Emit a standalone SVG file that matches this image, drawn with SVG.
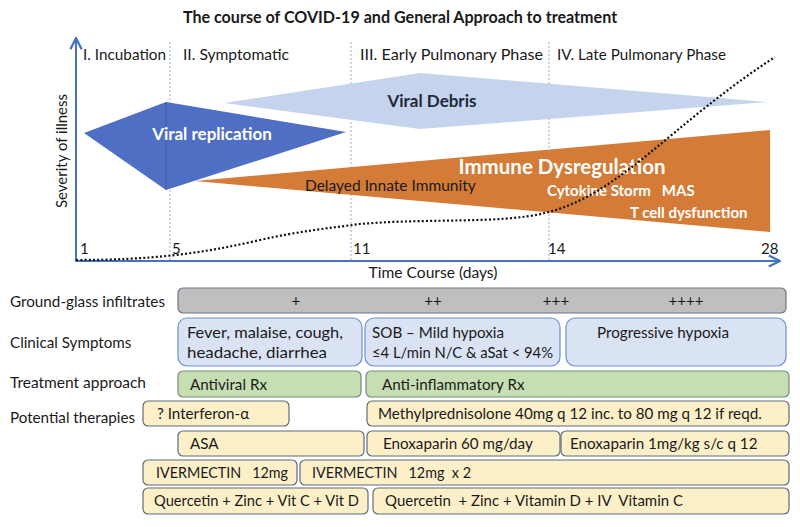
<svg xmlns="http://www.w3.org/2000/svg" width="800" height="527" viewBox="0 0 800 527">
<defs>
<style>
text{font-family:Lato,"Open Sans","Liberation Sans",sans-serif;fill:#1a1a1a;font-size:15.2px}
.b{font-weight:bold}
.w{fill:#fff}
.c{text-anchor:middle}
.dash{stroke:#9fb0cc;stroke-width:1;stroke-dasharray:2,2;fill:none}
.gray{fill:#bfbfbf;stroke:#6b7688;stroke-width:1.2}
.blue{fill:#dae3f3;stroke:#6f8fcf;stroke-width:1.2}
.green{fill:#c6deb3;stroke:#7b8a7a;stroke-width:1.2}
.cream{fill:#fdf0c9;stroke:#5f6b7d;stroke-width:1.2}
.bx{font-size:15.2px}
.ph{font-size:16px}
</style>
<marker id="ah" viewBox="0 0 10 10" refX="9" refY="5" markerWidth="7" markerHeight="7" orient="auto-start-reverse">
<path d="M1,1 L9,5 L1,9" fill="none" stroke="#4472c4" stroke-width="1.6"/>
</marker>
</defs>
<rect width="800" height="527" fill="#fff"/>
<text x="400" y="23" class="b c" style="font-size:16.1px">The course of COVID-19 and General Approach to treatment</text>

<g id="grid">
<line class="dash" x1="170" y1="42" x2="170" y2="261"/>
<line class="dash" x1="351" y1="42" x2="351" y2="261"/>
<line class="dash" x1="549" y1="42" x2="549" y2="261"/>
</g>

<g id="phases">
<text x="83" y="60" class="ph" textLength="83" lengthAdjust="spacingAndGlyphs">I. Incubation</text>
<text x="183" y="60" class="ph" textLength="106" lengthAdjust="spacingAndGlyphs">II. Symptomatic</text>
<text x="360" y="60" class="ph" textLength="183" lengthAdjust="spacingAndGlyphs">III. Early Pulmonary Phase</text>
<text x="557" y="60" class="ph" textLength="169" lengthAdjust="spacingAndGlyphs">IV. Late Pulmonary Phase</text>
</g>

<g id="viral-debris">
<polygon points="224,103 420,73 768,102 420,129" fill="#c5d4ec"/>
<text x="432" y="107" class="b c" style="font-size:17px;fill:#1f2a3a">Viral Debris</text>
</g>

<g id="viral-replication">
<polygon points="84,133 166,102 346,132 166,190" fill="#4f6fc4"/>
<line x1="166" y1="102" x2="166" y2="190" stroke="#3d5aa8" stroke-width="1"/>
<text x="212" y="140" class="b w c" style="font-size:17px">Viral replication</text>
</g>

<g id="immune-dysregulation">
<polygon points="195,181 770,130 770,232" fill="#d47b38"/>
<text x="562" y="174" class="b w c" style="font-size:20.5px">Immune Dysregulation</text>
<text x="305" y="191" style="font-size:15.5px">Delayed Innate Immunity</text>
<text x="547" y="196" class="b w" style="font-size:15px" xml:space="preserve">Cytokine Storm   MAS</text>
<text x="630" y="218" class="b w" style="font-size:15px">T cell dysfunction</text>
</g>

<g id="connectors">
<line x1="76" y1="262" x2="76" y2="38" stroke="#4472c4" stroke-width="2" marker-end="url(#ah)"/>
<line x1="75" y1="261" x2="780" y2="261" stroke="#4472c4" stroke-width="2" marker-end="url(#ah)"/>
<path d="M76,260 C150,260 200,254 260,240 C300,231 330,228 360,224 C430,218 500,224 545,213 C620,195 670,125 775,57" fill="none" stroke="#111" stroke-width="2.2" stroke-dasharray="2,2.2"/>
</g>

<g id="axis-labels">
<text x="80" y="254" style="font-size:15px">1</text>
<text x="172" y="254" style="font-size:15px">5</text>
<text x="353" y="254" style="font-size:15px">11</text>
<text x="548" y="254" style="font-size:15px">14</text>
<text x="761" y="254" style="font-size:15px">28</text>
<text x="433" y="278" class="c" style="font-size:15.6px">Time Course (days)</text>
<text transform="translate(67,151) rotate(-90)" class="c" style="font-size:15px">Severity of illness</text>
</g>

<g id="row-labels">
<text x="10" y="307" textLength="155" lengthAdjust="spacingAndGlyphs">Ground-glass infiltrates</text>
<text x="10" y="348">Clinical Symptoms</text>
<text x="10" y="388" textLength="136" lengthAdjust="spacingAndGlyphs">Treatment approach</text>
<text x="10" y="423">Potential therapies</text>
</g>

<g id="ground-glass">
<rect class="gray" x="178" y="288" width="608" height="25" rx="5"/>
<text x="296" y="306" class="c">+</text>
<text x="433" y="306" class="c">++</text>
<text x="556" y="306" class="c">+++</text>
<text x="686" y="306" class="c">++++</text>
</g>

<g id="symptoms-1">
<rect class="blue" x="178" y="318" width="184" height="48" rx="9"/>
<text x="187" y="338" class="bx" textLength="156" lengthAdjust="spacingAndGlyphs">Fever, malaise, cough,</text>
<text x="187" y="358" class="bx" textLength="140" lengthAdjust="spacingAndGlyphs">headache, diarrhea</text>
</g>
<g id="symptoms-2">
<rect class="blue" x="365" y="318" width="195" height="48" rx="9"/>
<text x="372" y="338" class="bx">SOB – Mild hypoxia</text>
<text x="372" y="358" class="bx" textLength="181" lengthAdjust="spacingAndGlyphs">≤4 L/min N/C &amp; aSat &lt; 94%</text>
</g>
<g id="symptoms-3">
<rect class="blue" x="566" y="318" width="220" height="48" rx="9"/>
<text x="663" y="338" class="c bx">Progressive hypoxia</text>
</g>

<g id="antiviral">
<rect class="green" x="178" y="371" width="183" height="26" rx="5"/>
<text x="190" y="390" class="bx">Antiviral Rx</text>
</g>
<g id="anti-inflammatory">
<rect class="green" x="366" y="371" width="423" height="26" rx="5"/>
<text x="382" y="390" class="bx">Anti-inflammatory Rx</text>
</g>

<g id="interferon">
<rect class="cream" x="143" y="401" width="146" height="25" rx="5"/>
<text x="157" y="419" class="bx">? Interferon-α</text>
</g>
<g id="methylprednisolone">
<rect class="cream" x="367" y="401" width="422" height="25" rx="5"/>
<text x="378" y="419" class="bx">Methylprednisolone 40mg q 12 inc. to 80 mg q 12 if reqd.</text>
</g>
<g id="asa">
<rect class="cream" x="178" y="431" width="186" height="25" rx="5"/>
<text x="190" y="449" class="bx">ASA</text>
</g>
<g id="enoxaparin-1">
<rect class="cream" x="367" y="431" width="193" height="25" rx="5"/>
<text x="383" y="449" class="bx">Enoxaparin 60 mg/day</text>
</g>
<g id="enoxaparin-2">
<rect class="cream" x="561" y="431" width="228" height="25" rx="5"/>
<text x="570" y="449" class="bx">Enoxaparin 1mg/kg s/c q 12</text>
</g>
<g id="ivermectin-1">
<rect class="cream" x="143" y="460" width="154" height="25" rx="5"/>
<text x="156" y="478" class="bx" xml:space="preserve" textLength="132" lengthAdjust="spacingAndGlyphs">IVERMECTIN   12mg</text>
</g>
<g id="ivermectin-2">
<rect class="cream" x="300" y="460" width="489" height="25" rx="5"/>
<text x="312" y="478" class="bx" xml:space="preserve" textLength="159" lengthAdjust="spacingAndGlyphs">IVERMECTIN   12mg  x 2</text>
</g>
<g id="quercetin-1">
<rect class="cream" x="143" y="488" width="225" height="26" rx="5"/>
<text x="154" y="506" class="bx" textLength="205" lengthAdjust="spacingAndGlyphs">Quercetin + Zinc + Vit C + Vit D</text>
</g>
<g id="quercetin-2">
<rect class="cream" x="373" y="488" width="416" height="26" rx="5"/>
<text x="385" y="506" class="bx" xml:space="preserve" textLength="298" lengthAdjust="spacingAndGlyphs">Quercetin  + Zinc + Vitamin D + IV  Vitamin C</text>
</g>
</svg>
